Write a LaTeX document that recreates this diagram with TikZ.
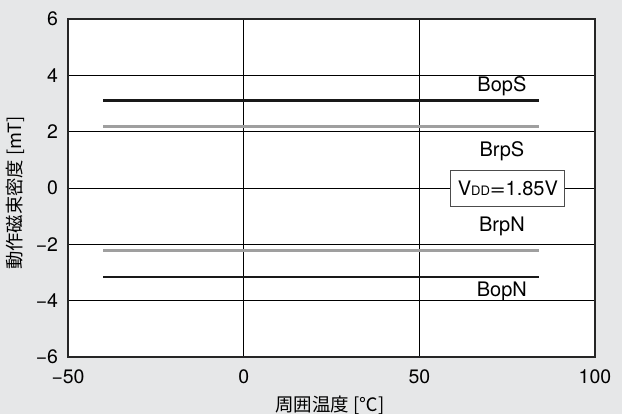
\documentclass[tikz,border=0pt]{standalone}
\usepackage{fontspec}
\setmainfont{TeX Gyre Heros}
\newfontfamily\jpfont{Noto Sans CJK JP}
\usepackage{graphicx}
\usetikzlibrary{calc, positioning, backgrounds}
\definecolor{bggray}{HTML}{E6E7E8}
\definecolor{linegray}{HTML}{9F9F9F}
\tikzstyle{gridline}=[line width=0.8pt, black]
\tikzstyle{frame}=[line width=1.8pt, black!85]
\tikzstyle{bop}=[line width=2.6pt, black!90]
\tikzstyle{brp}=[line width=2.6pt, linegray]
\tikzstyle{lbl}=[inner sep=0pt, font=\fontsize{20}{20}\selectfont]
\tikzstyle{ticklbl}=[inner sep=0pt, font=\fontsize{19.5}{19.5}\selectfont]

\begin{document}
\begin{tikzpicture}[x=1pt, y=1pt]
\useasboundingbox[fill=bggray] (0,0) rectangle (622,414);
\begin{scope}[shift={(243.7,226)}, x=3.513pt, y=28.17pt]
\fill[white] (-50,-6) rectangle (100,6);
\foreach \y in {-4,-2,...,4} \draw[gridline] (-50,\y) -- (100,\y);
\foreach \x in {0,50} \draw[gridline] (\x,-6) -- (\x,6);
\draw[frame] (-50,-6) rectangle (100,6);

% tick labels
\foreach \y in {-6,-4,-2}
  \node[ticklbl, anchor=east] (Y\y) at ($(-50,\y) + (-2.8,0)$) {−\pgfmathparse{int(-\y)}\pgfmathresult};
\foreach \y in {0,2,4,6}
  \node[ticklbl, anchor=east] (Y\y) at ($(-50,\y) + (-2.8,0)$) {\y};
\node[ticklbl, anchor=north] (X0) at ($(-50,-6) + (0,-0.43)$) {−50};
\foreach \x in {0,50,100}
  \node[ticklbl, anchor=north] (X\x) at ($(\x,-6) + (0,-0.43)$) {\x};

% characteristic lines
\draw[bop] (-40,3.10) -- (84,3.10);
\draw[brp] (-40,2.19) -- (84,2.19);
\draw[brp] (-40,-2.22) -- (84,-2.22);
\draw[bop] (-40,-3.16) -- (84,-3.16);

\node[lbl] (BopS) at (73.5,3.62) {BopS};
\node[lbl] (BrpS) at (73.5,1.32) {BrpS};
\node[lbl] (BrpN) at (73.5,-1.38) {BrpN};
\node[lbl] (BopN) at (73.5,-3.66) {BopN};
\node[lbl, draw=black!70, fill=white, line width=0.9pt, minimum width=114pt, minimum height=36pt]
  (Vdd) at (75.2,0) {V\scalebox{0.65}{DD}\scalebox{1.35}[1]{=}1.85V};
\end{scope}

% axis titles
\node[inner sep=0pt, font=\jpfont\fontsize{18.5}{18.5}\selectfont] (xtitle) at (330,9) {周囲温度 [℃]};
\node[inner sep=0pt, rotate=90, font=\jpfont\fontsize{18.3}{18.3}\selectfont] (ytitle) at (15,221) {動作磁束密度 [mT]};
\end{tikzpicture}
\end{document}
